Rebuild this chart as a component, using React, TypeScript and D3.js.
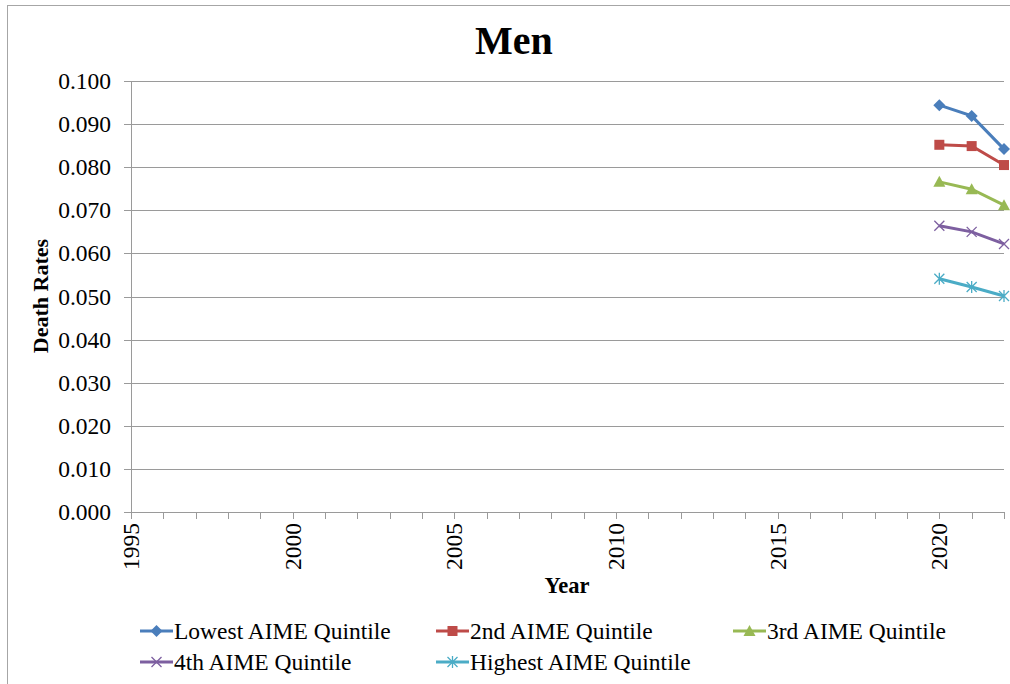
import * as d3 from 'd3'

const years = [2020, 2021, 2022]
const lowest = [0.0944, 0.0919, 0.0842]
const second = [0.0852, 0.0849, 0.0805]
const third = [0.0766, 0.0749, 0.0712]
const fourth = [0.0664, 0.065, 0.0622]
const highest = [0.0541, 0.0522, 0.0501]
const seriesNames = [
  'Lowest AIME Quintile',
  '2nd AIME Quintile',
  '3rd AIME Quintile',
  '4th AIME Quintile',
  'Highest AIME Quintile',
]
const yTicks = [0, 0.01, 0.02, 0.03, 0.04, 0.05, 0.06, 0.07, 0.08, 0.09, 0.1]
const xLabelYears = [1995, 2000, 2005, 2010, 2015, 2020]

const colors = ['#4A7EBB', '#BE4B48', '#98B954', '#7D5FA0', '#4BACC6']
const markers = ['diamond', 'square', 'triangle', 'x', 'star']

const width = 1010
const height = 684
const marginLeft = 131
const marginRight = 1004
const marginTop = 81
const plotBottom = 512
const font = "'Liberation Serif', 'Times New Roman', serif"

function Marker({ type, cx, cy, color }: { type: string; cx: number; cy: number; color: string }) {
  if (type === 'diamond') {
    const s = 6
    return <path d={`M${cx},${cy - s}L${cx + s},${cy}L${cx},${cy + s}L${cx - s},${cy}Z`} fill={color} />
  }
  if (type === 'square') {
    return <rect x={cx - 5} y={cy - 5} width={10} height={10} fill={color} />
  }
  if (type === 'triangle') {
    return <path d={`M${cx},${cy - 6}L${cx + 6},${cy + 5}L${cx - 6},${cy + 5}Z`} fill={color} />
  }
  if (type === 'x') {
    const s = 5
    return (
      <path
        d={`M${cx - s},${cy - s}L${cx + s},${cy + s}M${cx - s},${cy + s}L${cx + s},${cy - s}`}
        stroke={color}
        strokeWidth={1.3}
      />
    )
  }
  const s = 5
  return (
    <path
      d={`M${cx - s},${cy - s}L${cx + s},${cy + s}M${cx - s},${cy + s}L${cx + s},${cy - s}M${cx},${cy - 6}L${cx},${cy + 6}`}
      stroke={color}
      strokeWidth={1.3}
    />
  )
}

export default function App() {
  const x = d3.scaleLinear([1995, 2022], [marginLeft, marginRight])
  const y = d3.scaleLinear([0, 0.1], [plotBottom, marginTop])

  const all = [lowest, second, third, fourth, highest]
  const line = d3
    .line<number>()
    .x((_, i) => x(years[i]))
    .y((d) => y(d))

  const yearTicks = d3.range(1995, 2023)

  const legendItems = [
    { col: 140, row: 631 },
    { col: 436, row: 631 },
    { col: 733, row: 631 },
    { col: 140, row: 662 },
    { col: 436, row: 662 },
  ]

  return (
    <svg
      width={width}
      height={height}
      style={{ position: 'absolute', left: 0, top: 0, background: '#fff', fontFamily: font }}
    >
      <rect x={7.5} y={5.5} width={1010} height={700} fill="none" stroke="#a6a6a6" />
      <text x={514} y={54} textAnchor="middle" fontSize={40} fontWeight="bold">
        Men
      </text>
      {/* grid + y ticks */}
      {yTicks.map((t) => (
        <g key={t}>
          <line x1={124} x2={marginRight} y1={Math.round(y(t)) + 0.5} y2={Math.round(y(t)) + 0.5} stroke="#9a9a9a" />
          <text x={111} y={y(t) + 8} textAnchor="end" fontSize={23.5}>
            {t.toFixed(3)}
          </text>
        </g>
      ))}
      <line x1={marginLeft + 0.5} x2={marginLeft + 0.5} y1={marginTop} y2={plotBottom} stroke="#9a9a9a" />
      {yearTicks.map((yr) => (
        <line
          key={yr}
          x1={Math.round(x(yr)) + 0.5}
          x2={Math.round(x(yr)) + 0.5}
          y1={plotBottom}
          y2={plotBottom + 7}
          stroke="#9a9a9a"
        />
      ))}
      {xLabelYears.map((yr) => (
        <text
          key={yr}
          transform={`translate(${x(yr) + 8},${plotBottom + 11}) rotate(-90)`}
          textAnchor="end"
          fontSize={23.5}
        >
          {yr}
        </text>
      ))}
      <text x={567} y={593} textAnchor="middle" fontSize={22.5} fontWeight="bold">
        Year
      </text>
      <text transform={`translate(48,${296}) rotate(-90)`} textAnchor="middle" fontSize={22} fontWeight="bold">
        Death Rates
      </text>
      {/* series */}
      {all.map((vals, si) => (
        <g key={si}>
          <path d={line(vals) as string} fill="none" stroke={colors[si]} strokeWidth={3} />
          {vals.map((v, i) => (
            <Marker key={i} type={markers[si]} cx={x(years[i])} cy={y(v)} color={colors[si]} />
          ))}
        </g>
      ))}
      {/* legend */}
      {legendItems.map((it, si) => (
        <g key={si}>
          <line x1={it.col} x2={it.col + 33} y1={it.row} y2={it.row} stroke={colors[si]} strokeWidth={3} />
          <Marker type={markers[si]} cx={it.col + 16.5} cy={it.row} color={colors[si]} />
          <text x={it.col + 34} y={it.row + 8} fontSize={23.5}>
            {seriesNames[si]}
          </text>
        </g>
      ))}
    </svg>
  )
}
